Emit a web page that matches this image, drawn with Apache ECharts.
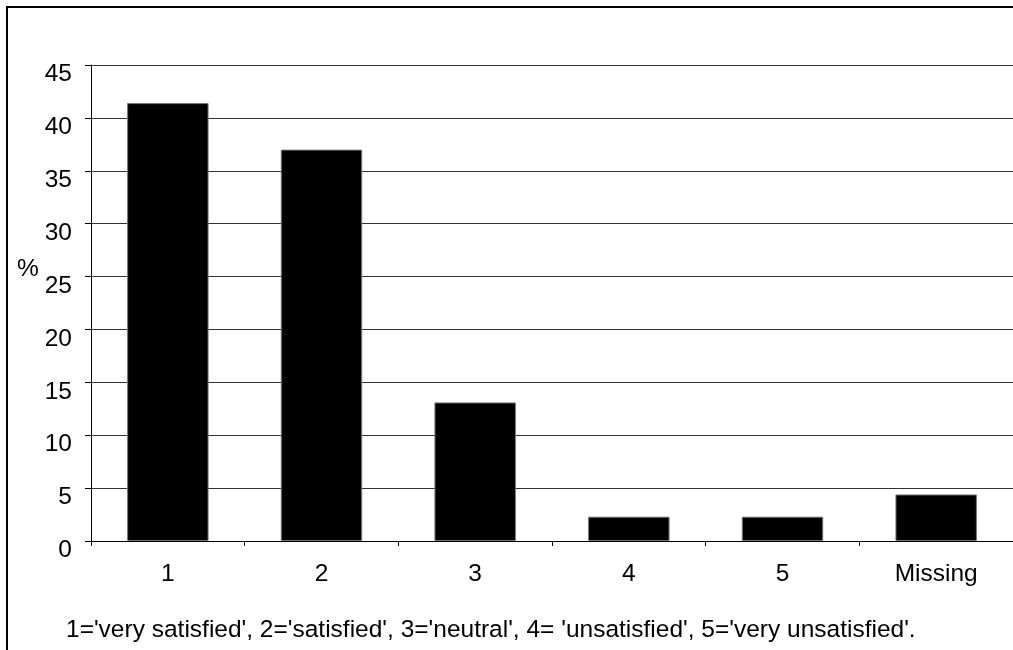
<!DOCTYPE html>
<html>
<head>
<meta charset="utf-8">
<script src="https://cdn.jsdelivr.net/npm/echarts@6/dist/echarts.min.js"></script>
<style>
html,body{margin:0;padding:0;background:#fff;}
#chart{width:1013px;height:650px;}
</style>
</head>
<body>
<div id="chart"></div>
<script>
const categories = ['1', '2', '3', '4', '5', 'Missing'];
const percentValues = [41.4, 37.0, 13.1, 2.3, 2.3, 4.4];
const yAxisTitle = '%';
const footnote = "1='very satisfied', 2='satisfied', 3='neutral', 4= 'unsatisfied', 5='very unsatisfied'.";

const FONT = 'Liberation Sans, Arial, sans-serif';
const chart = echarts.init(document.getElementById('chart'), null, {renderer: 'canvas'});
chart.setOption({
  animation: false,
  backgroundColor: '#ffffff',
  grid: {left: 91, top: 65, right: 0, bottom: 109, containLabel: false},
  xAxis: {
    type: 'category',
    data: categories,
    boundaryGap: true,
    axisLine: {lineStyle: {color: '#000', width: 1}},
    axisTick: {show: true, length: 5, inside: false, lineStyle: {color: '#000'}},
    axisLabel: {color: '#000', fontFamily: FONT, fontSize: 24.5, margin: 21}
  },
  yAxis: {
    type: 'value',
    min: 0, max: 45, interval: 5,
    axisLine: {show: true, lineStyle: {color: '#000', width: 1}},
    axisTick: {show: true, length: 6, lineStyle: {color: '#000'}},
    axisLabel: {color: '#000', fontFamily: FONT, fontSize: 24.5, margin: 19, verticalAlign: 'top', lineHeight: 19},
    splitLine: {show: true, lineStyle: {color: '#333', width: 1}}
  },
  series: [{
    type: 'bar',
    data: percentValues,
    barWidth: '53%',
    itemStyle: {color: '#000', borderColor: '#777', borderWidth: 1}
  }],
  graphic: [
    {type: 'rect', shape: {x: 7, y: 7, width: 1100, height: 700}, style: {fill: null, stroke: '#000', lineWidth: 2}, silent: true},
    {type: 'text', left: 17, top: 257, style: {text: yAxisTitle, font: '24.5px ' + FONT, fill: '#000'}},
    {type: 'text', left: 66, top: 618, style: {text: footnote, font: '24.5px ' + FONT, fill: '#000'}}
  ]
});
</script>
</body>
</html>
